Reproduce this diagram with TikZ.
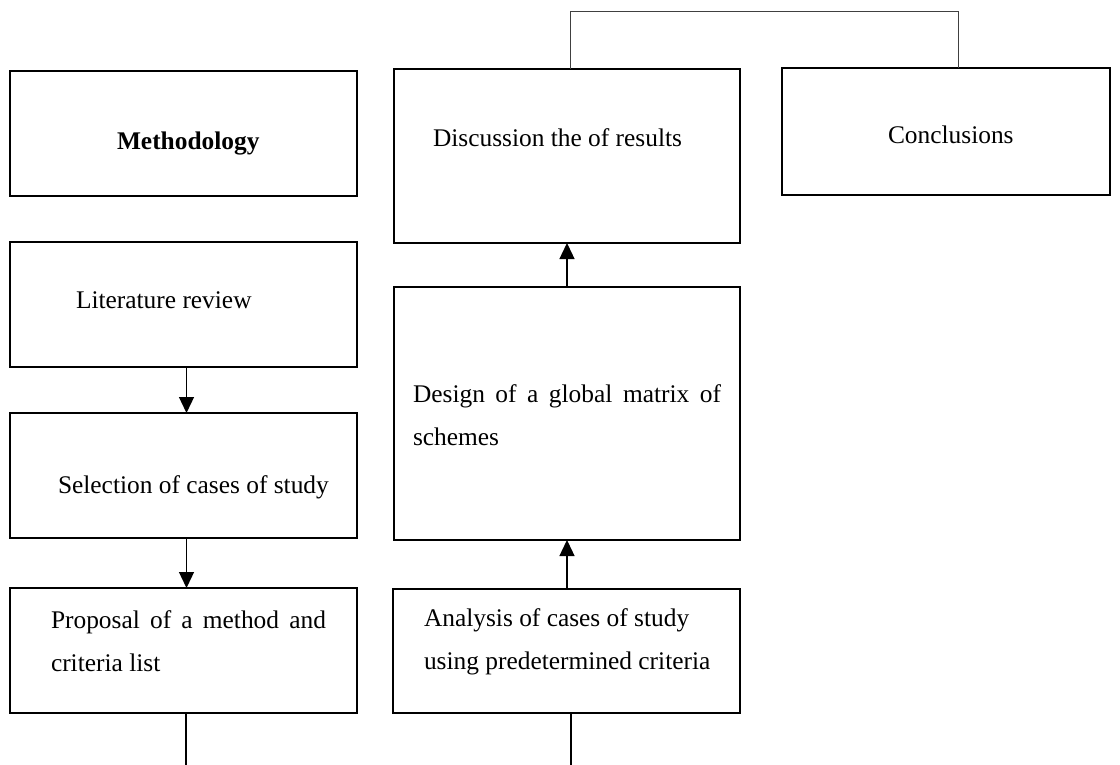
\documentclass[tikz,border=0pt]{standalone}
\usepackage{fontspec}
\setmainfont{Liberation Serif}
\usetikzlibrary{arrows.meta}
\tikzset{
  box/.style={draw, line width=1.2pt, inner sep=0pt, outer sep=0pt},
  txt/.style={anchor=base west, inner sep=0pt, outer sep=0pt},
  arr/.style={line width=0.65pt, -{Triangle[width=7.5pt,length=8pt]}},
  link/.style={line width=0.55pt},
  bracket/.style={line width=0.5pt, draw=black!75}
}
\begin{document}
\begin{tikzpicture}[x=0.5pt, y=-0.5pt, font=\fontsize{12.7}{14}\selectfont]
\useasboundingbox[fill=white] (0,0) rectangle (1120,765);
% boxes
\node[box, minimum width=173.5pt, minimum height=62.5pt] (meth) at (183.5,133.5) {};
\node[box, minimum width=173.5pt, minimum height=62.5pt] (lit)  at (183.5,304.5) {};
\node[box, minimum width=173.5pt, minimum height=62.5pt] (sel)  at (183.5,475.5) {};
\node[box, minimum width=173.5pt, minimum height=62.5pt] (prop) at (183.5,650.5) {};
\node[box, minimum width=173pt, minimum height=87pt] (disc) at (567,156) {};
\node[box, minimum width=173pt, minimum height=126.5pt] (des) at (567,413.5) {};
\node[box, minimum width=173.5pt, minimum height=62pt] (ana) at (566.5,651) {};
\node[box, minimum width=164pt, minimum height=63.5pt] (conc) at (946,131.5) {};
% texts
\node[txt] (tmeth) at (117,149) {\textbf{Methodology}};
\node[txt] (tlit) at (76,308) {Literature review};
\node[txt] (tsel) at (58,493) {Selection of cases of study};
\node[txt] (tprop1) at (51,628) {\makebox[137.5pt][s]{Proposal of a method and}};
\node[txt] (tprop2) at (51,671) {criteria list};
\node[txt] (tdisc) at (433,147) {Discussion the of results};
\node[txt] (tdes1) at (413,402) {\makebox[154pt][s]{Design of a global matrix of}};
\node[txt] (tdes2) at (413,445) {schemes};
\node[txt] (tana1) at (424,626) {Analysis of cases of study};
\node[txt] (tana2) at (424,669) {using predetermined criteria};
\node[txt] (tconc) at (888,144) {Conclusions};
% free ends
\coordinate (pend) at (186,765);
\coordinate (aend) at (571,765);
\coordinate (tl) at (570,12);
\coordinate (tr) at (958,12);
% connectors
\draw[arr] ([xshift=1.5pt]lit.south) -- ([xshift=1.5pt]sel.north);
\draw[arr] ([xshift=1.5pt]sel.south) -- ([xshift=1.5pt]prop.north);
\draw[link] (prop.south -| pend) -- (pend);
\draw[arr] (des.south |- ana.north) -- (des.south);
\draw[arr] (des.north) -- (disc.south);
\draw[link] (ana.south -| aend) -- (aend);
\draw[bracket] (disc.north -| tl) -- (tl) -- (tr) -- (tr |- conc.north);
\end{tikzpicture}
\end{document}
